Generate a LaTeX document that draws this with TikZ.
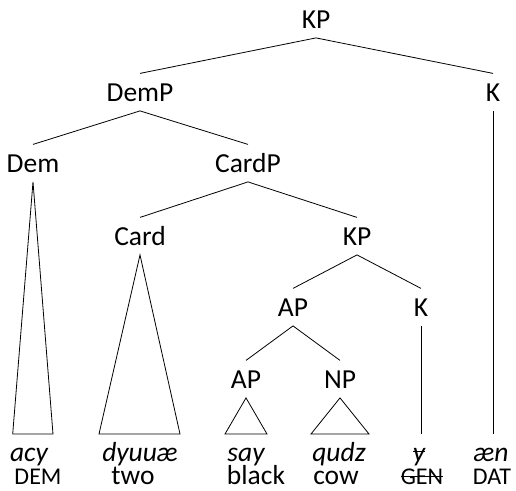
\documentclass[tikz,border=0pt]{standalone}
\usepackage{fontspec}
\setmainfont{Carlito}
\newcommand\strk[2]{\setbox0\hbox{#1}\rlap{\rule[#2]{\wd0}{0.8pt}}\box0}
\begin{document}
\begin{tikzpicture}[x=1pt,y=-1pt,line width=0.8pt,
  tnode/.style={font=\fontsize{27.5}{30}\selectfont, anchor=base, text height=17.7pt, text depth=0pt, inner xsep=0pt, inner ysep=9.5pt},
  leaf/.style={font=\fontsize{27.5}{30}\selectfont\itshape, anchor=base, inner sep=0pt},
  gloss/.style={font=\fontsize{27.5}{30}\selectfont, anchor=base, inner sep=0pt},
  capgloss/.style={font=\fontsize{24}{26}\selectfont, anchor=base, inner sep=0pt}]
\useasboundingbox (0,0) rectangle (516,490);
% tree nodes
\node[tnode] (kp) at (316,28) {KP};
\node[tnode] (demp) at (140,101) {DemP};
\node[tnode] (k1) at (493,101) {K};
\node[tnode] (dem) at (33,172) {Dem};
\node[tnode] (cardp) at (248,172) {CardP};
\node[tnode] (card) at (140,245) {Card};
\node[tnode] (kp2) at (357,245) {KP};
\node[tnode] (ap) at (293,316) {AP};
\node[tnode] (k2) at (421,316) {K};
\node[tnode] (ap2) at (246,388) {AP};
\node[tnode] (np) at (340,388) {NP};
% leaves
\node[leaf] (acy) at (29,461.5) {acy};
\node[leaf] (dyu) at (140,461.5) {dyuuæ};
\node[leaf] (say) at (246,461.5) {say};
\node[leaf] (qudz) at (339,461.5) {qudz};
\node[leaf] (yy) at (419,461.5) {\strk{y}{9.5pt}};
\node[leaf] (aen) at (491,461.5) {æn};
\node[capgloss] (gdem) at (38,484) {DEM};
\node[gloss] (gtwo) at (133,484) {two};
\node[gloss] (gblack) at (256,484) {black};
\node[gloss] (gcow) at (336,484) {cow};
\node[capgloss] (ggen) at (422,484) {\strk{GEN}{7.5pt}};
\node[capgloss] (gdat) at (492,484) {DAT};
% base points
\coordinate (dl) at (12.7,434); \coordinate (dr) at (53,434);
\coordinate (cl) at (99,434); \coordinate (cr) at (180,434);
\coordinate (al) at (225,434); \coordinate (ar) at (267,434);
\coordinate (nl) at (311,434); \coordinate (nr) at (369,434);
\coordinate (k2e) at (421,434); \coordinate (k1e) at (493,434);
% edges
\draw (demp.north) -- (kp.south) -- (k1.north);
\draw (dem.north) -- (demp.south) -- (cardp.north);
\draw (card.north) -- (cardp.south) -- (kp2.north);
\draw (ap.north) -- (kp2.south) -- (k2.north);
\draw (ap2.north) -- (ap.south) -- (np.north);
\draw (k1.south) -- (k1e);
\draw (k2.south) -- (k2e);
\draw (dem.south) -- (dl) -- (dr) -- cycle;
\draw (card.south) -- (cl) -- (cr) -- cycle;
\draw (ap2.south) -- (al) -- (ar) -- cycle;
\draw (np.south) -- (nl) -- (nr) -- cycle;
\end{tikzpicture}
\end{document}
